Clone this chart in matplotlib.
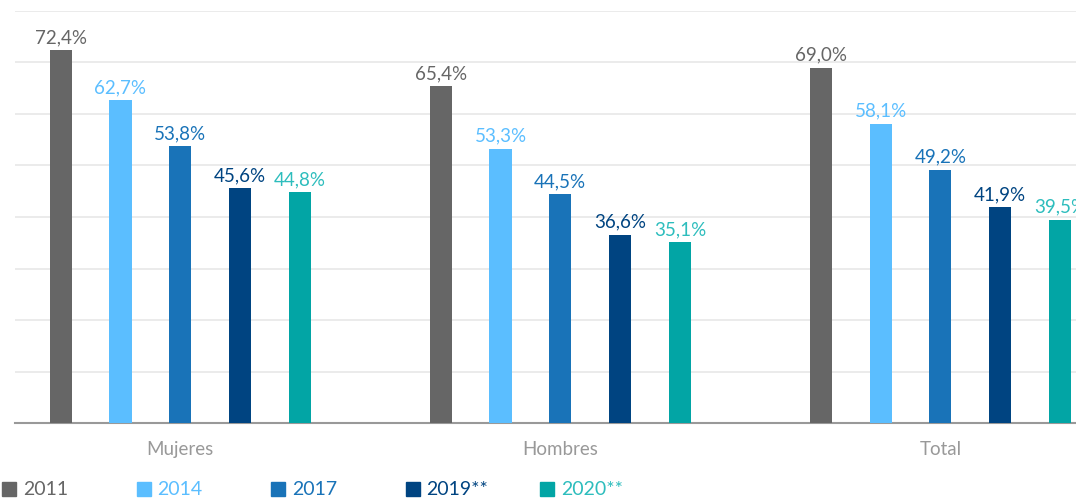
import matplotlib
matplotlib.use("Agg")
import matplotlib.pyplot as plt
from matplotlib.patches import Rectangle

plt.rcParams['font.family'] = ['Lato', 'DejaVu Sans']

groups = ['Mujeres', 'Hombres', 'Total']
years = ['2011', '2014', '2017', '2019**', '2020**']
values = {
    '2011': [72.4, 65.4, 69.0],
    '2014': [62.7, 53.3, 58.1],
    '2017': [53.8, 44.5, 49.2],
    '2019**': [45.6, 36.6, 41.9],
    '2020**': [44.8, 35.1, 39.5],
}
bar_colors = ['#666666', '#5bbeff', '#1973b8', '#004481', '#02a5a5']
text_colors = ['#666666', '#5bbeff', '#1973b8', '#004481', '#2dbdbd']

fig = plt.figure(figsize=(10.76, 4.98), dpi=100)
ax = fig.add_axes([15 / 1076, 75 / 498, 1 - 15 / 1076, 412 / 498])

step = 0.1574
width = 0.058
for i, yr in enumerate(years):
    xs = [g + (i - 2) * step for g in range(len(groups))]
    ax.bar(xs, values[yr], width=width, color=bar_colors[i], zorder=3)
    for x, v in zip(xs, values[yr]):
        ax.annotate(f"{v:.1f}%".replace('.', ','), (x, v),
                    xytext=(0, 5), textcoords='offset points',
                    ha='center', va='baseline', fontsize=13.5,
                    color=text_colors[i], annotation_clip=False)

ax.set_xlim(-0.435, 2.357)
ax.set_ylim(0, 80)
ax.set_yticks(range(0, 81, 10))
ax.set_yticklabels([])
ax.grid(axis='y', color='#e8e8e8', linewidth=1.2, zorder=0)
ax.set_xticks(range(len(groups)))
ax.set_xticklabels(groups, fontsize=13.5, color='#999999')
ax.tick_params(axis='both', length=0)
ax.tick_params(axis='x', pad=13)
for s in ['top', 'right', 'left']:
    ax.spines[s].set_visible(False)
ax.spines['bottom'].set_color('#999999')
ax.spines['bottom'].set_linewidth(1.5)

# legend row along the bottom edge
for i, yr in enumerate(years):
    x0 = (2 + 134.5 * i) / 1076
    fig.add_artist(Rectangle((x0, 2 / 498), 14 / 1076, 14 / 498,
                             transform=fig.transFigure, color=bar_colors[i]))
    fig.text(x0 + 21 / 1076, 3 / 498, yr, fontsize=14,
             color=text_colors[i], ha='left', va='baseline')

fig.savefig('out.png', dpi=100)
